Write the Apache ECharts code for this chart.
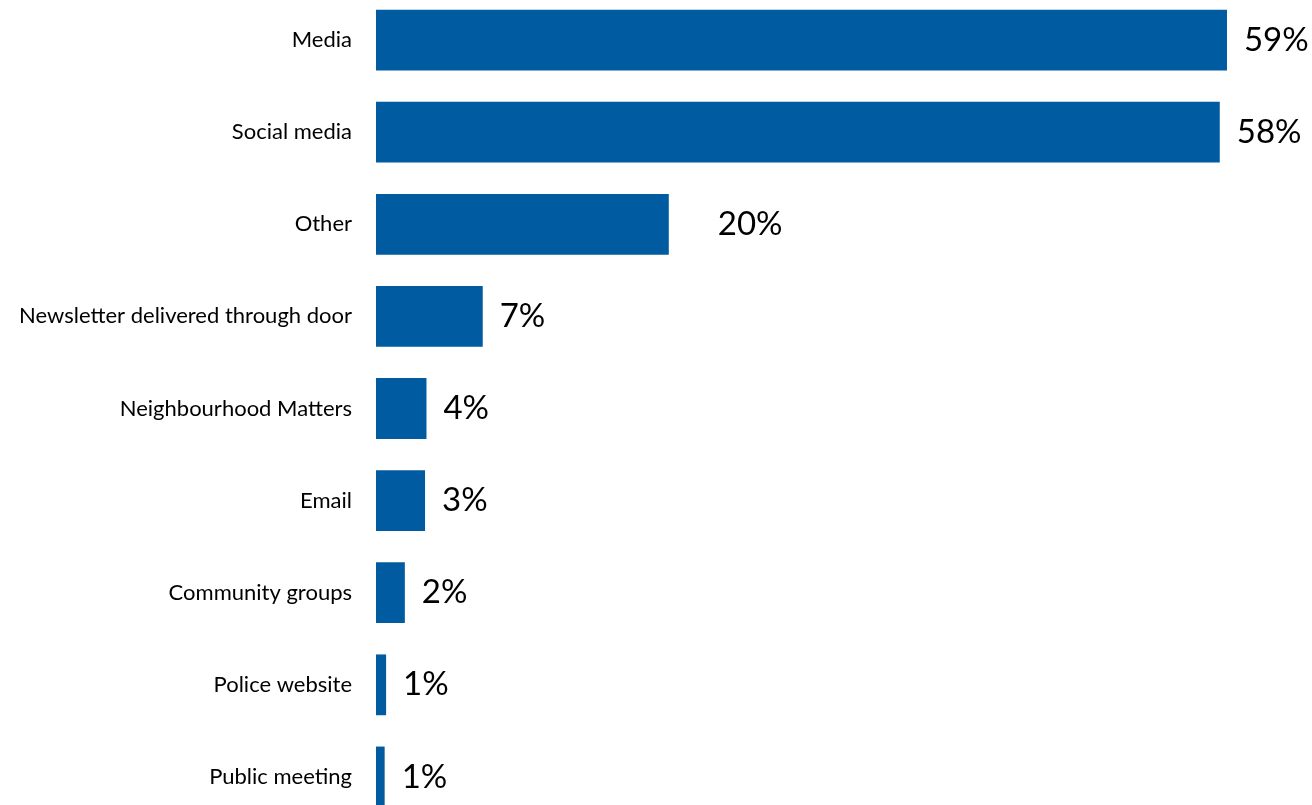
<!DOCTYPE html>
<html><head><meta charset="utf-8">
<script src="https://cdn.jsdelivr.net/npm/echarts@6/dist/echarts.min.js"></script>
<style>html,body{margin:0;padding:0;background:#fff}#c{width:1312px;height:805px}</style>
</head><body><div id="c"></div>
<script>
const categories = ["Media","Social media","Other","Newsletter delivered through door","Neighbourhood Matters","Email","Community groups","Police website","Public meeting"];
const values = [59.0, 58.5, 20.3, 7.4, 3.5, 3.4, 2.0, 0.7, 0.6];
const valueLabels = ["59%","58%","20%","7%","4%","3%","2%","1%","1%"];

const chart = echarts.init(document.getElementById('c'), null, {renderer:'canvas'});
chart.setOption({
  animation:false,
  grid:{left:376, top:-6, width:865.4, height:829, containLabel:false, outerBoundsMode:'none'},
  xAxis:{type:'value', min:0, max:60, show:false},
  yAxis:{type:'category', data:categories, inverse:true,
    axisLine:{show:false}, axisTick:{show:false}, splitLine:{show:false},
    axisLabel:{margin:24, color:'#000', fontFamily:'Lato', fontSize:22}},
  series:[{type:'bar',
    data: values.map((v,i)=> i===2 ? {value:v, label:{distance:49}} : v),
    barCategoryGap:'34%',
    itemStyle:{color:'#005BA0'},
    label:{show:true, position:'right', distance:17, color:'#000', fontFamily:'Lato', fontSize:33,
      formatter:(p)=>valueLabels[p.dataIndex]}}]
});
</script></body></html>
